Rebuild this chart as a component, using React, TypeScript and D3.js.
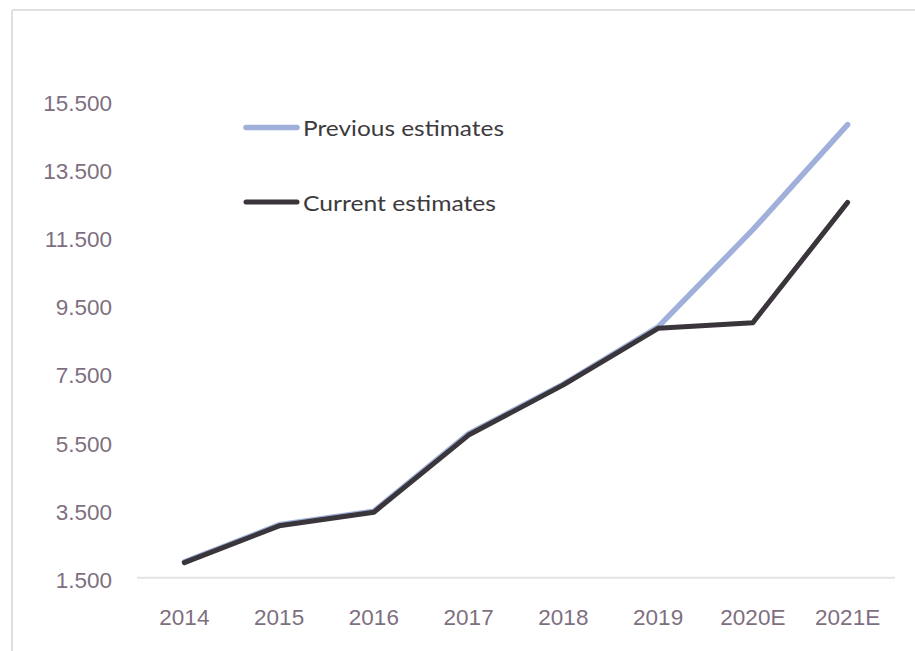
import React from "react";
import * as d3 from "d3";

const categories = ["2014", "2015", "2016", "2017", "2018", "2019", "2020E", "2021E"];
const previousEstimates = [1965, 3050, 3450, 5720, 7175, 8850, 11700, 14780];
const currentEstimates = [1940, 3020, 3420, 5680, 7150, 8810, 8975, 12500];
const yTicks = [1500, 3500, 5500, 7500, 9500, 11500, 13500, 15500];
const legendLabels = ["Previous estimates", "Current estimates"];

const W = 915;
const H = 651;

const fmt = (v: number) => d3.format(",.3f")(v / 1000).replace(/,/g, "");

export default function App() {
  const x = d3.scaleBand<string>().domain(categories).range([137, 895]);
  const y = d3.scaleLinear().domain([1500, 15500]).range([577.7, 100]);
  const cx = (c: string) => (x(c) as number) + x.bandwidth() / 2;

  const line = d3
    .line<number>()
    .x((_, i) => cx(categories[i]))
    .y((d) => y(d));

  const axisColor = "#7e6f80";
  const axisFont = "'Liberation Sans', Arial, sans-serif";

  return (
    <svg
      width={W}
      height={H}
      viewBox={`0 0 ${W} ${H}`}
      style={{ position: "fixed", left: 0, top: 0, background: "#fff" }}
    >
      <rect x={0} y={0} width={W} height={H} fill="#fff" />
      {/* frame */}
      <line x1={12} y1={10} x2={W} y2={10} stroke="#e2dfe0" strokeWidth={2} />
      <line x1={12} y1={10} x2={12} y2={H} stroke="#e2dfe0" strokeWidth={2} />

      {/* baseline */}
      <line x1={137} x2={895} y1={y(1500)} y2={y(1500)} stroke="#e3e3e3" strokeWidth={2} />

      {/* y labels */}
      {yTicks.map((t) => (
        <text
          key={t}
          x={112}
          y={y(t) + 10.5}
          textAnchor="end"
          fontFamily={axisFont}
          fontSize={22.5}
          fill={axisColor}
        >
          {fmt(t)}
        </text>
      ))}

      {/* x labels */}
      {categories.map((c) => (
        <text
          key={c}
          x={cx(c)}
          y={625}
          textAnchor="middle"
          fontFamily={axisFont}
          fontSize={22.5}
          fill={axisColor}
        >
          {c}
        </text>
      ))}

      {/* lines */}
      <path
        d={line(previousEstimates) || ""}
        fill="none"
        stroke="#a0b0da"
        strokeWidth={5.5}
        strokeLinecap="round"
        strokeLinejoin="round"
      />
      <path
        d={line(currentEstimates) || ""}
        fill="none"
        stroke="#3a343b"
        strokeWidth={5}
        strokeLinecap="round"
        strokeLinejoin="round"
      />

      {/* legend */}
      <g>
        <line x1={246} x2={297} y1={127.5} y2={127.5} stroke="#a0b0da" strokeWidth={5.5} strokeLinecap="round" />
        <text x={303} y={136} fontFamily="Lato, 'Open Sans', sans-serif" fontSize={21.5} fill="#3d3a3e" textLength={201} lengthAdjust="spacingAndGlyphs">
          {legendLabels[0]}
        </text>
        <line x1={246} x2={297} y1={202} y2={202} stroke="#3a343b" strokeWidth={5} strokeLinecap="round" />
        <text x={303} y={210.5} fontFamily="Lato, 'Open Sans', sans-serif" fontSize={21.5} fill="#3d3a3e" textLength={193} lengthAdjust="spacingAndGlyphs">
          {legendLabels[1]}
        </text>
      </g>
    </svg>
  );
}
